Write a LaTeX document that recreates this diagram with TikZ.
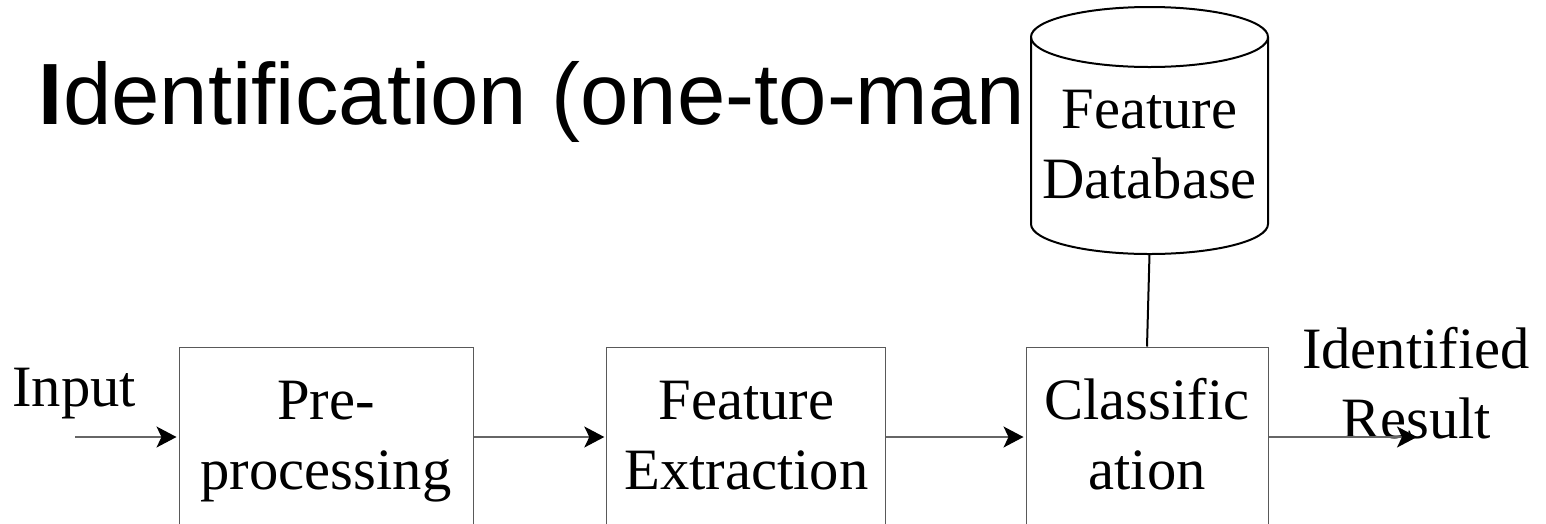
\documentclass[tikz,border=0pt]{standalone}
\usepackage{fontspec}
\setmainfont{Liberation Serif}
\newfontfamily\titlefont{Liberation Sans}
\usetikzlibrary{arrows.meta}

% body text: 58.6pt serif, lines 70pt apart
\newcommand\bodyfont{\fontsize{58.6pt}{70pt}\selectfont}
% strut giving every line the same height and depth
\newcommand\stagestrut{\rule[-12pt]{0pt}{59pt}}
\newcommand\twolines[2]{\stagestrut#1\\\stagestrut#2}

\tikzset{
  stage/.style={draw=black!65, line width=1pt, minimum width=#1,
    minimum height=180pt, inner sep=0pt, align=center, font=\bodyfont},
  plaintext/.style={inner sep=0pt, align=center, font=\bodyfont},
  headtip/.tip={Stealth[length=20pt, width=21pt, inset=5pt, color=black]},
  flow/.style={draw=black!60, line width=1.4pt, -headtip, shorten >=2pt},
  dbline/.style={draw=black, line width=2pt},
}

\begin{document}
\begin{tikzpicture}[x=1pt,y=-1pt]
\useasboundingbox (0,0) rectangle (1546,523);
\clip (0,0) rectangle (1546,523);

% heading
\node[font=\titlefont\fontsize{87pt}{87pt}\selectfont, anchor=base west,
      inner sep=0pt] (title) at (38.7,124) {\textbf{I}dentification (one-to-man};

% database cylinder
\draw[dbline, fill=white] (1031,37) -- (1031,224)
  arc[start angle=180, end angle=360, x radius=118.5pt, y radius=30pt]
  -- (1268,37)
  arc[start angle=0, end angle=180, x radius=118.5pt, y radius=30pt] -- cycle;
\draw[dbline] (1031,37)
  arc[start angle=180, end angle=360, x radius=118.5pt, y radius=30pt];
\node[plaintext] (db) at (1149.5,145.5) {\twolines{Feature}{Database}};
\coordinate (dbbase) at (1149.5,254);

% processing stages
\node[stage=294pt] (pre)  at (326,437)    {\twolines{Pre-}{processing}};
\node[stage=279pt] (feat) at (746.3,437)  {\twolines{Feature}{Extraction}};
\node[stage=242pt] (cls)  at (1147,437)   {\twolines{Classific}{ation}};

% input and output labels
\node[font=\bodyfont, anchor=base west, inner sep=0pt] (inlab) at (12,406) {Input};
\node[plaintext] (outlab) at (1416,385.5) {\twolines{Identified}{Result}};

\coordinate (in)  at (75,437);
\coordinate (out) at (1419,437);

% connectors
\draw[flow] (in) -- (pre.west);
\draw[flow] (pre.east) -- (feat.west);
\draw[flow] (feat.east) -- (cls.west);
\draw[flow] (cls.east) -- (out);
\draw[dbline] (dbbase) -- (cls.north);
\end{tikzpicture}
\end{document}
